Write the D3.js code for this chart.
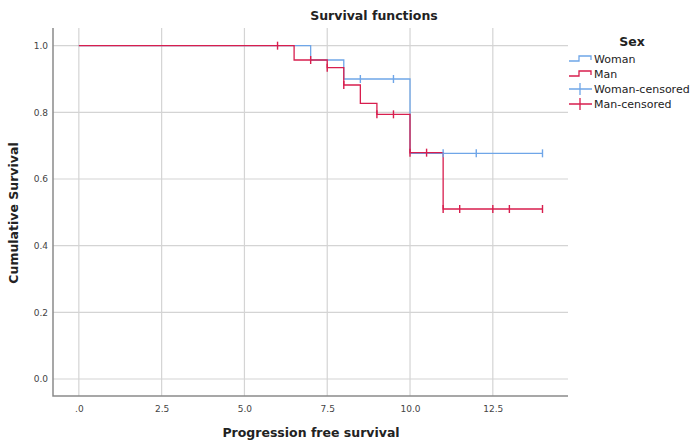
<!DOCTYPE html>
<html>
<head>
<meta charset="utf-8">
<script src="https://cdn.jsdelivr.net/npm/d3@7"></script>
<style>
  body { margin: 0; background: #fff; }
  text { font-family: "DejaVu Sans", sans-serif; }
</style>
</head>
<body>
<div id="chart"></div>
<script>
// step curves
const womanTime = [0, 7.0, 8.0, 10.0, 14.0];
const womanSurv = [1.0, 0.957, 0.900, 0.677, 0.677];
const manTime = [0, 6.5, 7.5, 8.0, 8.5, 9.0, 10.0, 11.0, 14.0];
const manSurv = [1.0, 0.957, 0.934, 0.882, 0.827, 0.794, 0.679, 0.510, 0.510];

// censored cases
const womanCensTime = [8.5, 9.5, 11.0, 12.0, 14.0];
const womanCensSurv = [0.900, 0.900, 0.677, 0.677, 0.677];
const manCensTime = [6.0, 7.0, 7.5, 8.0, 9.0, 9.5, 10.0, 10.5, 11.0, 11.5, 12.5, 13.0, 14.0];
const manCensSurv = [1.0, 0.957, 0.934, 0.882, 0.794, 0.794, 0.679, 0.679, 0.510, 0.510, 0.510, 0.510, 0.510];

const xTicks = [0, 2.5, 5, 7.5, 10, 12.5];
const xTickLabels = [".0", "2.5", "5.0", "7.5", "10.0", "12.5"];
const yTicks = [0, 0.2, 0.4, 0.6, 0.8, 1.0];
const legendLabels = ["Woman", "Man", "Woman-censored", "Man-censored"];

const blue = "#6fa6e8", red = "#d81e4e";

const W = 696, H = 443;
const pLeft = 53, pRight = 568, pTop = 28, pBottom = 396;

const svg = d3.select("#chart").append("svg").attr("width", W).attr("height", H);

const x = d3.scaleLinear().domain([-0.78, 14.77]).range([pLeft, pRight]);
const y = d3.scaleLinear().domain([-0.051, 1.053]).range([pBottom, pTop]);

// grid
svg.append("g").selectAll("line").data(xTicks).join("line")
  .attr("x1", d => x(d)).attr("x2", d => x(d))
  .attr("y1", pTop).attr("y2", pBottom)
  .attr("stroke", "#d4d4d4").attr("stroke-width", 1.2);
svg.append("g").selectAll("line").data(yTicks).join("line")
  .attr("x1", pLeft).attr("x2", pRight)
  .attr("y1", d => y(d)).attr("y2", d => y(d))
  .attr("stroke", "#d4d4d4").attr("stroke-width", 1.2);

// axes (no tick marks, just labels)
const xAxis = d3.axisBottom(x).tickValues(xTicks).tickSize(0).tickPadding(10)
  .tickFormat((d, i) => xTickLabels[i]);
const gx = svg.append("g").attr("transform", `translate(0,${pBottom})`).call(xAxis);
gx.select(".domain").remove();
gx.selectAll("text").attr("font-size", 9).attr("fill", "#444");

const yAxis = d3.axisLeft(y).tickValues(yTicks).tickSize(0).tickPadding(5)
  .tickFormat(d3.format(".1f"));
const gy = svg.append("g").attr("transform", `translate(${pLeft},0)`).call(yAxis);
gy.select(".domain").remove();
gy.selectAll("text").attr("font-size", 9).attr("fill", "#444");

svg.append("path")
  .attr("d", `M${pLeft},${pTop}V${pBottom}H${pRight}`)
  .attr("fill", "none").attr("stroke", "#8a8a8a").attr("stroke-width", 1.5);

// curves
const step = d3.line().curve(d3.curveStepAfter).x(d => x(d[0])).y(d => y(d[1]));
svg.append("path").datum(d3.zip(womanTime, womanSurv))
  .attr("d", step).attr("fill", "none").attr("stroke", blue).attr("stroke-width", 1.3);
svg.append("path").datum(d3.zip(manTime, manSurv))
  .attr("d", step).attr("fill", "none").attr("stroke", red).attr("stroke-width", 1.3);

function censor(times, surv, color) {
  svg.append("g").selectAll("line").data(d3.zip(times, surv)).join("line")
    .attr("x1", d => x(d[0])).attr("x2", d => x(d[0]))
    .attr("y1", d => y(d[1]) - 4).attr("y2", d => y(d[1]) + 4)
    .attr("stroke", color).attr("stroke-width", 1.4);
}
censor(womanCensTime, womanCensSurv, blue);
censor(manCensTime, manCensSurv, red);

// titles
svg.append("text").attr("x", 374).attr("y", 20).attr("text-anchor", "middle")
  .attr("font-size", 12.5).attr("font-weight", "bold").attr("fill", "#222")
  .text("Survival functions");
svg.append("text").attr("x", 311).attr("y", 437).attr("text-anchor", "middle")
  .attr("font-size", 12.5).attr("font-weight", "bold").attr("fill", "#222")
  .text("Progression free survival");
svg.append("text").attr("transform", "translate(18,213) rotate(-90)").attr("text-anchor", "middle")
  .attr("font-size", 12.5).attr("font-weight", "bold").attr("fill", "#222")
  .text("Cumulative Survival");

// legend
const lg = svg.append("g");
lg.append("text").attr("x", 632).attr("y", 46).attr("text-anchor", "middle")
  .attr("font-size", 12.5).attr("font-weight", "bold").attr("fill", "#222").text("Sex");
const rowY = [59, 74, 89, 104];
const legendColors = [blue, red, blue, red];
legendLabels.forEach((lab, i) => {
  const yy = rowY[i];
  if (i < 2) {
    lg.append("path").attr("d", `M569,${yy + 2}H579V${yy - 3}H591V${yy + 1}`)
      .attr("fill", "none").attr("stroke", legendColors[i]).attr("stroke-width", 1.3);
  } else {
    lg.append("path").attr("d", `M569,${yy}H592M580,${yy - 6}V${yy + 6}`)
      .attr("fill", "none").attr("stroke", legendColors[i]).attr("stroke-width", 1.3);
  }
  lg.append("text").attr("x", 594).attr("y", yy + 4).attr("font-size", 11).attr("fill", "#222").text(lab);
});
</script>
</body>
</html>
